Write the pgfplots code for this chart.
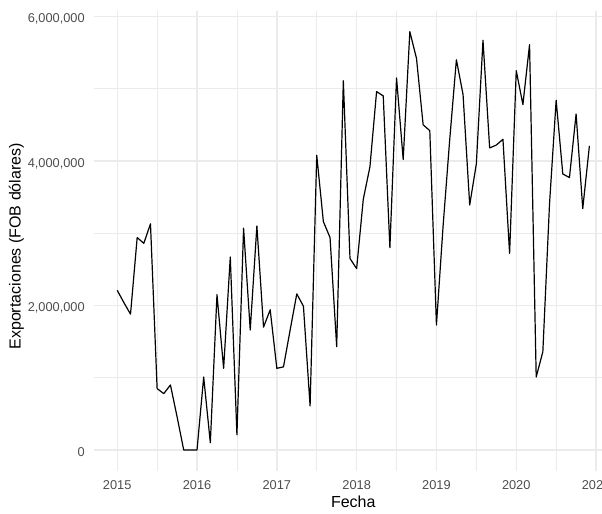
\documentclass[border=0pt]{standalone}
\usepackage{pgfplots}
\pgfplotsset{compat=1.18}
\usepackage{pgfplotstable}
\usepackage{fontspec}
\setmainfont{Liberation Sans}
\definecolor{gridc}{HTML}{EBEBEB}
\definecolor{tickc}{HTML}{4D4D4D}
\pgfplotstableread{
x y
2015.0000 2210000
2015.0833 2040000
2015.1667 1880000
2015.2500 2940000
2015.3333 2860000
2015.4167 3130000
2015.5000 850000
2015.5833 780000
2015.6667 900000
2015.7500 460000
2015.8333 0
2015.9167 0
2016.0000 0
2016.0833 1010000
2016.1667 100000
2016.2500 2150000
2016.3333 1130000
2016.4167 2670000
2016.5000 210000
2016.5833 3070000
2016.6667 1660000
2016.7500 3100000
2016.8333 1700000
2016.9167 1940000
2017.0000 1130000
2017.0833 1150000
2017.1667 1660000
2017.2500 2160000
2017.3333 1990000
2017.4167 610000
2017.5000 4080000
2017.5833 3160000
2017.6667 2940000
2017.7500 1430000
2017.8333 5110000
2017.9167 2650000
2018.0000 2510000
2018.0833 3470000
2018.1667 3920000
2018.2500 4960000
2018.3333 4900000
2018.4167 2800000
2018.5000 5150000
2018.5833 4020000
2018.6667 5790000
2018.7500 5420000
2018.8333 4500000
2018.9167 4420000
2019.0000 1730000
2019.0833 3100000
2019.1667 4300000
2019.2500 5400000
2019.3333 4920000
2019.4167 3390000
2019.5000 3960000
2019.5833 5670000
2019.6667 4180000
2019.7500 4220000
2019.8333 4300000
2019.9167 2720000
2020.0000 5250000
2020.0833 4780000
2020.1667 5610000
2020.2500 1010000
2020.3333 1360000
2020.4167 3400000
2020.5000 4840000
2020.5833 3820000
2020.6667 3770000
2020.7500 4650000
2020.8333 3340000
2020.9167 4210000
}\datatable
\begin{document}
\begin{tikzpicture}
\useasboundingbox (-70.2pt,-31.575pt) rectangle (381.3pt,353.175pt);
\begin{axis}[
  at={(0,0)}, anchor=south west,
  scale only axis,
  width=389.55pt, height=345.15pt,
  xmin=2014.704, xmax=2021.2125,
  ymin=-289500, ymax=6079500,
  axis line style={draw=none},
  major tick length=0pt, minor tick length=0pt,
  tick style={draw=none},
  xtick={2015,2016,2017,2018,2019,2020,2021},
  minor xtick={2015.5,2016.5,2017.5,2018.5,2019.5,2020.5},
  ytick={0,2000000,4000000,6000000},
  minor ytick={1000000,3000000,5000000},
  grid=both,
  major grid style={draw=gridc, line width=1.07pt},
  minor grid style={draw=gridc, line width=0.53pt},
  scaled y ticks=false,
  scaled x ticks=false,
  /pgf/number format/assume math mode=true,
  xticklabel style={/pgf/number format/1000 sep=, anchor=base, inner sep=0pt, yshift=-14.3pt, text=tickc, font=\fontsize{9.6}{11}\selectfont},
  yticklabel style={/pgf/number format/fixed, /pgf/number format/1000 sep={,}, anchor=base east, inner sep=0pt, xshift=-6.45pt, yshift=-4.8pt, text=tickc, font=\fontsize{9.6}{11}\selectfont},
  xlabel={Fecha},
  ylabel={Exportaciones (FOB dólares)},
  xlabel style={at={(axis description cs:0.5,0)}, anchor=base, inner sep=0pt, yshift=-27.6pt, font=\fontsize{12}{14}\selectfont},
  ylabel style={at={([xshift=-54.7pt]axis description cs:0,0.488)}, anchor=base, inner sep=0pt, rotate=0, font=\fontsize{12}{14}\selectfont},
  clip=false,
]
\addplot[black, line width=0.9pt, line join=round, mark=none] table[x=x, y=y] {\datatable};
\end{axis}
\end{tikzpicture}
\end{document}
